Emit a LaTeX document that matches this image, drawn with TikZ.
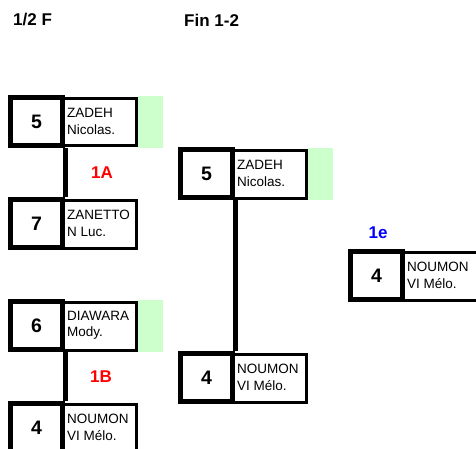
\documentclass[tikz,border=0pt]{standalone}
\usepackage{fontspec}
\setmainfont{Liberation Sans}
\definecolor{winfill}{RGB}{204,255,204}
\definecolor{lblred}{RGB}{255,0,0}
\definecolor{lblblue}{RGB}{0,0,255}
\newcommand{\bentry}[6]{%
  \node[namebox,#6] (#1name) at ({#2+91.25},{#3+0.75}) {};
  \node[numbox] (#1num) at ({#2+28.5},#3) {#4};
  \node[nametext] (#1text) at ({#2+59},#3) {#5};
}
\newcommand{\bgreen}[3]{%
  \node[greenbox] (#1green) at ({#2+142.5},{#3+0.5}) {};
}
\begin{document}
\begin{tikzpicture}[x=1pt,y=-1pt,
  numbox/.style={draw, line width=5pt, minimum width=52pt, minimum height=48pt, inner sep=0pt, fill=white, font=\fontsize{19.5}{22}\selectfont\bfseries},
  namebox/.style={draw, line width=3pt, minimum width=73.5pt, minimum height=47.5pt, inner sep=0pt},
  greenbox/.style={fill=winfill, minimum width=25pt, minimum height=52pt, inner sep=0pt},
  nametext/.style={anchor=west, inner sep=0pt, align=left, font=\fontsize{13.5}{16.5}\selectfont},
  header/.style={anchor=west, inner sep=0pt, font=\fontsize{17}{20}\selectfont\bfseries},
  matchlbl/.style={inner sep=0pt, font=\fontsize{17}{20}\selectfont\bfseries},
  link/.style={line width=5pt}]
\useasboundingbox (0,0) rectangle (476,449);
\clip (0,0) rectangle (476,449);
\fill[white] (0,0) rectangle (476,449);

\node[header] (h1) at (13,20) {1/2 F};
\node[header] (h2) at (184,20) {Fin 1-2};

% column 1
\bgreen{a}{8}{121.5}
\bentry{a}{8}{121.5}{5}{ZADEH\\Nicolas.}{}
\bentry{b}{8}{223.5}{7}{ZANETTO\\N Luc.}{}
\bgreen{c}{8}{325.5}
\bentry{c}{8}{325.5}{6}{DIAWARA\\Mody.}{}
\bentry{d}{8}{427.5}{4}{NOUMON\\VI Mélo.}{}

% column 2
\bgreen{e}{178}{173.5}
\bentry{e}{178}{173.5}{5}{ZADEH\\Nicolas.}{}
\bentry{f}{178}{377.5}{4}{NOUMON\\VI Mélo.}{}

% final
\bentry{g}{348}{275.5}{4}{NOUMON\\VI Mélo.}{xshift=2pt, minimum width=77.5pt}

% connectors
\draw[link] (anum.south east) -- (bnum.north east);
\draw[link] (cnum.south east) -- (dnum.north east);
\draw[link] (enum.south east) -- (fnum.north east);

% match labels
\node[matchlbl, text=lblred] (m1) at (102,173) {1A};
\node[matchlbl, text=lblred] (m2) at (101,377) {1B};
\node[matchlbl, text=lblblue] (m3) at (378,233) {1e};
\end{tikzpicture}
\end{document}
